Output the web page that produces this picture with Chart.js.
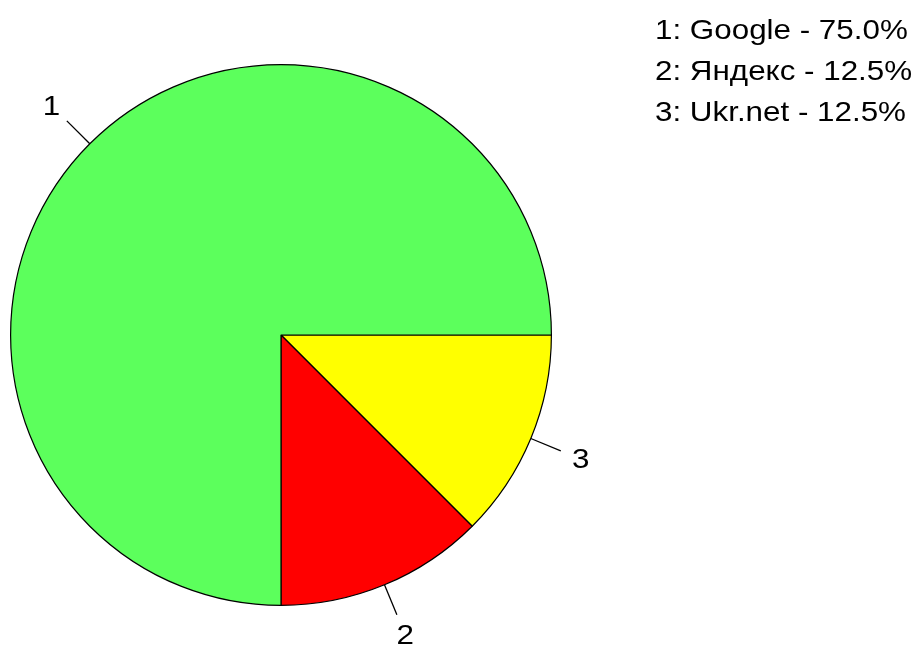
<!DOCTYPE html>
<html>
<head>
<meta charset="utf-8">
<script src="https://cdn.jsdelivr.net/npm/chart.js@4"></script>
<style>
  html, body { margin: 0; padding: 0; background: #fff; }
  #wrap { width: 921px; height: 646px; }
</style>
</head>
<body>
<div id="wrap"><canvas id="pieChart" width="921" height="646"></canvas></div>
<script>
// Data (order as numbered in the legend)
const sites = ['Google', 'Яндекс', 'Ukr.net'];
const shares = [75.0, 12.5, 12.5];
const sliceColors = ['#5CFF5C', '#FF0000', '#FFFF00'];

const FONT = "'Liberation Sans', Arial, sans-serif";
const STRETCH = 1.12; // reference glyphs are a bit wider than Liberation Sans

// R draws counter-clockwise from 3 o'clock; Chart.js goes clockwise,
// so feed the slices reversed and start at 90deg.
const order = sites.map((_, i) => i).reverse();

function wideText(ctx, str, x, y) {
    ctx.save();
    ctx.translate(x, y);
    ctx.scale(STRETCH, 1);
    ctx.fillText(str, 0, 0);
    ctx.restore();
}

// Leader lines, slice numbers and the text legend
const pieLabels = {
    id: 'pieLabels',
    afterDraw(chart) {
        const ctx = chart.ctx;
        const arcs = chart.getDatasetMeta(0).data;
        ctx.save();
        ctx.strokeStyle = '#000';
        ctx.lineWidth = 1.3;
        ctx.fillStyle = '#000';
        ctx.font = `28px ${FONT}`;
        ctx.textAlign = 'center';
        ctx.textBaseline = 'alphabetic';
        arcs.forEach((arc, j) => {
            const idx = order[j];
            const mid = (arc.startAngle + arc.endAngle) / 2;
            const r = arc.outerRadius;
            const cx = arc.x, cy = arc.y;
            const c = Math.cos(mid), s = Math.sin(mid);
            ctx.beginPath();
            ctx.moveTo(cx + c * r, cy + s * r);
            ctx.lineTo(cx + c * r * 1.12, cy + s * r * 1.12);
            ctx.stroke();
            wideText(ctx, String(idx + 1), cx + c * r * 1.2, cy + s * r * 1.2 + 9);
        });

        ctx.textAlign = 'left';
        sites.forEach((name, i) => {
            wideText(ctx, `${i + 1}: ${name} - ${shares[i].toFixed(1)}%`, 655, 39 + i * 41);
        });
        ctx.restore();
    }
};

new Chart(document.getElementById('pieChart'), {
    type: 'pie',
    data: {
        labels: order.map(i => sites[i]),
        datasets: [{
            data: order.map(i => shares[i]),
            backgroundColor: order.map(i => sliceColors[i]),
            borderColor: '#000',
            borderWidth: 1.2
        }]
    },
    options: {
        responsive: false,
        animation: false,
        rotation: 90,
        layout: { padding: { left: 10, right: 369, top: 64, bottom: 40 } },
        plugins: {
            legend: { display: false },
            tooltip: { enabled: false }
        }
    },
    plugins: [pieLabels]
});
</script>
</body>
</html>
